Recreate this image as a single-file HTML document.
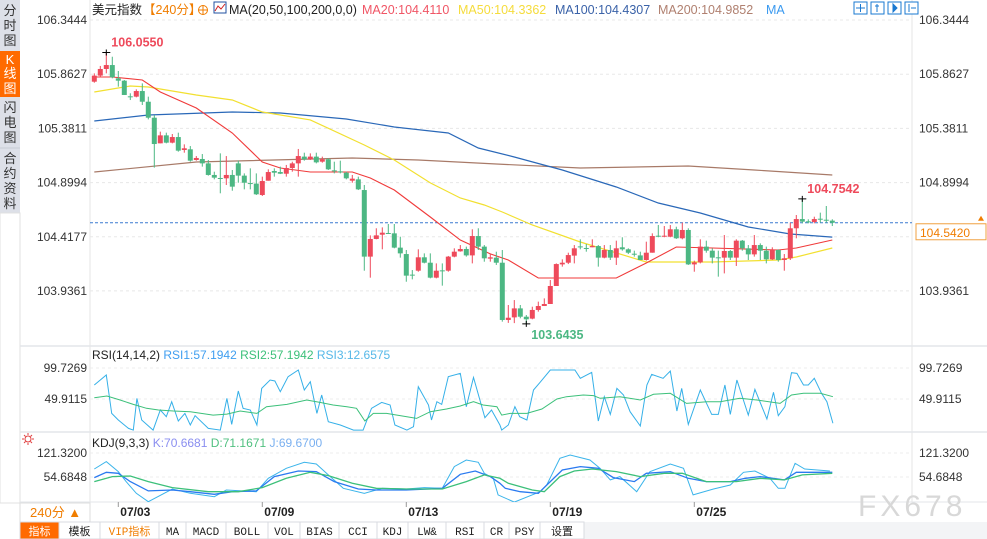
<!DOCTYPE html>
<html><head><meta charset="utf-8">
<style>
body{margin:0;width:987px;height:539px;overflow:hidden;background:#fff;font-family:"Liberation Sans","Noto Sans CJK SC",sans-serif;}
svg{position:absolute;left:0;top:0}
text{font-family:"Liberation Sans","Noto Sans CJK SC",sans-serif}
#tabs text{font-family:"Liberation Mono","Noto Sans CJK SC",monospace}
</style></head>
<body>
<svg id="c" width="987" height="539" viewBox="0 0 987 539">
  <rect x="0" y="0" width="20" height="213" fill="#dde0e8"/>
  <g font-size="13" fill="#333" text-anchor="middle">
    <g><text x="10" y="15">分</text><text x="10" y="30">时</text><text x="10" y="45">图</text></g>
    <rect x="0" y="51" width="20" height="46" fill="#ff6a00"/>
    <text x="10" y="64" fill="#fff">K</text><text x="10" y="78" fill="#fff">线</text><text x="10" y="93" fill="#fff">图</text>
    <line x1="0" y1="148" x2="20" y2="148" stroke="#c8cbd3"/>
    <g><text x="10" y="112">闪</text><text x="10" y="127">电</text><text x="10" y="142">图</text></g>
    <g><text x="10" y="163">合</text><text x="10" y="178">约</text><text x="10" y="193">资</text><text x="10" y="208">料</text></g>
  </g>
  <rect x="0" y="213" width="20" height="290" fill="#fff" stroke="#e0e0e0"/>
  <line x1="90" y1="0" x2="90" y2="502" stroke="#e6e6e6"/>
  <line x1="912" y1="0" x2="912" y2="502" stroke="#e6e6e6"/>
  <line x1="20" y1="346" x2="987" y2="346" stroke="#e3e6ea" stroke-width="1.5"/>
  <line x1="20" y1="432" x2="987" y2="432" stroke="#e3e6ea" stroke-width="1.5"/>
  <line x1="20" y1="502" x2="987" y2="502" stroke="#e3e6ea"/>
  <g id="grid"></g>
  <g id="ma"></g>
  <g id="candles"></g>
  <g id="rsi"></g>
  <g id="kdj"></g>
  <g id="axes" font-size="12" fill="#333"></g>
  <g font-size="12.5">
    <text x="92" y="14" fill="#222">美元指数</text>
    <text x="143" y="14" fill="#f07d00">【240分】</text>
    <g><circle cx="203" cy="10" r="4.5" fill="none" stroke="#f07d00"/><line x1="198" y1="10" x2="208" y2="10" stroke="#f07d00"/><line x1="203" y1="5" x2="203" y2="15" stroke="#f07d00"/></g>
    <g><rect x="214" y="2" width="12" height="11" fill="#fff" stroke="#2050a0"/><polyline points="215,11 218,6 221,9 225,4" fill="none" stroke="#d02020"/></g>
    <text x="229" y="14" fill="#222">MA(20,50,100,200,0,0)</text>
    <text x="362" y="14" fill="#f05565">MA20:104.4110</text>
    <text x="458" y="14" fill="#f5dc3c">MA50:104.3362</text>
    <text x="555" y="14" fill="#3a62a8">MA100:104.4307</text>
    <text x="658" y="14" fill="#b08070">MA200:104.9852</text>
    <text x="766" y="14" fill="#3a9af0">MA</text>
  </g>
  <g stroke="#1a78d0" fill="#fff">
    <rect x="854" y="2" width="13" height="12"/>
    <rect x="871" y="2" width="13" height="12"/>
    <rect x="888" y="2" width="13" height="12"/>
    <rect x="905" y="2" width="13" height="12"/>
    <path d="M860.5 4v8M856 8h9M877 4v8M875 6h4M893 4v8l4-4z M909 4v8M911 8h5" fill="#1a78d0"/>
  </g>
  <text x="92" y="359" font-size="12" fill="#222">RSI(14,14,2) <tspan fill="#3f9ef0">RSI1:57.1942</tspan> <tspan fill="#3cc07a">RSI2:57.1942</tspan> <tspan fill="#55b8e8">RSI3:12.6575</tspan></text>
  <g><circle cx="28" cy="439" r="3" fill="none" stroke="#e04040"/><path d="M28 433v2M28 443v2M22 439h2M32 439h2M24 435l1.5 1.5M30.5 441.5l1.5 1.5M24 443l1.5-1.5M30.5 436.5l1.5-1.5" stroke="#e04040"/></g>
  <text x="92" y="447" font-size="12" fill="#222">KDJ(9,3,3) <tspan fill="#8a8ef0">K:70.6681</tspan> <tspan fill="#50c080">D:71.1671</tspan> <tspan fill="#7ab0f0">J:69.6700</tspan></text>
  <rect x="20" y="503" width="70" height="19" fill="#fff" stroke="#ddd"/>
  <text x="30" y="517" font-size="13" fill="#f07d00">240分 ▲</text>
  <g id="dates" font-size="12" font-weight="bold" fill="#222"></g>
  <rect x="20" y="522" width="967" height="17" fill="#f3f4f6"/>
  <g id="tabs" font-size="11"></g>
  <text x="858" y="516" font-size="30" fill="#d8d8d8" letter-spacing="4">FX678</text>
</svg>
<script>
const opens=[105.796,105.850,105.909,105.944,105.826,105.805,105.666,105.663,105.713,105.618,105.476,105.248,105.319,105.254,105.304,105.189,105.195,105.100,105.109,105.070,104.967,104.940,104.937,104.967,105.070,104.961,104.895,104.890,104.789,104.916,105.002,104.993,104.978,105.029,105.070,105.130,105.106,105.130,105.085,105.106,105.008,104.999,104.987,104.916,104.928,104.833,104.241,104.398,104.436,104.451,104.448,104.321,104.264,104.081,104.116,104.235,104.187,104.054,104.119,104.116,104.241,104.288,104.309,104.252,104.424,104.330,104.223,104.232,104.187,103.678,103.701,103.781,103.707,103.690,103.767,103.802,103.820,103.980,104.172,104.187,104.250,104.332,104.318,104.324,104.335,104.232,104.300,104.232,104.324,104.306,104.267,104.252,104.211,104.276,104.427,104.418,104.418,104.484,104.404,104.478,104.172,104.190,104.330,104.294,104.235,104.232,104.291,104.232,104.383,104.315,104.261,104.344,104.294,104.217,104.300,104.211,104.226,104.493,104.575,104.555,104.549,104.578,104.569,104.561];
const closes=[105.850,105.909,105.944,105.835,105.805,105.678,105.660,105.713,105.618,105.476,105.242,105.319,105.254,105.304,105.183,105.204,105.094,105.118,105.070,104.967,104.943,104.934,104.967,104.863,104.961,104.898,104.890,104.795,104.913,104.993,104.987,104.978,105.029,105.070,105.135,105.106,105.130,105.079,105.106,105.017,105.002,104.993,104.937,104.934,104.839,104.241,104.398,104.430,104.454,104.445,104.321,104.270,104.072,104.075,104.235,104.187,104.054,104.116,104.113,104.241,104.285,104.309,104.252,104.424,104.330,104.226,104.235,104.187,103.678,103.698,103.781,103.707,103.684,103.767,103.802,103.820,103.980,104.175,104.187,104.255,104.315,104.327,104.312,104.335,104.232,104.300,104.232,104.315,104.306,104.276,104.261,104.211,104.276,104.424,104.418,104.427,104.484,104.404,104.478,104.172,104.190,104.330,104.294,104.232,104.229,104.291,104.232,104.383,104.315,104.261,104.344,104.294,104.217,104.300,104.211,104.226,104.493,104.575,104.552,104.549,104.575,104.572,104.563,104.542];
const highs=[105.870,105.936,106.055,106.018,105.891,105.811,105.693,105.728,105.781,105.663,105.500,105.352,105.343,105.331,105.343,105.239,105.224,105.135,105.153,105.100,104.996,105.159,105.135,105.011,105.094,104.981,105.026,104.981,104.952,105.017,105.026,105.041,105.056,105.085,105.198,105.165,105.159,105.165,105.130,105.115,105.085,105.094,104.996,104.967,104.952,104.878,104.430,104.493,104.501,104.531,104.531,104.418,104.300,104.122,104.306,104.270,104.270,104.181,104.181,104.247,104.315,104.344,104.330,104.484,104.493,104.344,104.264,104.285,104.300,103.811,103.855,103.811,103.722,103.796,103.841,103.870,104.033,104.181,104.217,104.276,104.344,104.395,104.353,104.395,104.344,104.344,104.344,104.383,104.413,104.315,104.294,104.285,104.374,104.448,104.522,104.513,104.522,104.507,104.543,104.493,104.205,104.395,104.383,104.315,104.294,104.433,104.300,104.395,104.389,104.344,104.433,104.359,104.330,104.324,104.306,104.264,104.543,104.611,104.7542,104.573,104.596,104.632,104.691,104.573];
const lows=[105.787,105.841,105.870,105.826,105.752,105.678,105.633,105.657,105.589,105.461,105.032,105.248,105.248,105.248,105.174,105.165,105.085,105.094,105.041,104.961,104.928,104.804,104.878,104.827,104.898,104.839,104.839,104.789,104.780,104.916,104.952,104.975,104.952,104.996,104.952,105.094,105.100,105.070,105.076,105.011,104.981,104.981,104.928,104.898,104.833,104.116,104.054,104.395,104.306,104.442,104.315,104.232,104.018,104.039,104.107,104.181,104.048,104.048,103.983,104.107,104.235,104.285,104.241,104.181,104.300,104.196,104.196,104.167,103.663,103.652,103.650,103.693,103.6435,103.684,103.752,103.802,103.820,103.980,104.152,104.175,104.181,104.306,104.285,104.324,104.152,104.226,104.211,104.167,104.294,104.264,104.241,104.211,104.205,104.276,104.413,104.413,104.413,104.398,104.395,104.167,104.107,104.181,104.276,104.181,104.063,104.092,104.211,104.158,104.294,104.211,104.241,104.211,104.181,104.211,104.196,104.116,104.211,104.404,104.537,104.537,104.537,104.543,104.543,104.513];
const ma20=[[1,105.838],[4,105.838],[9,105.811],[12,105.704],[18,105.562],[24,105.340],[29,105.082],[32,105.029],[37,104.993],[44,104.993],[47,104.940],[51,104.833],[57,104.593],[62,104.389],[67,104.265],[70,104.211],[75,104.051],[79,104.051],[88,104.051],[93,104.184],[98,104.327],[104,104.318],[115,104.300],[118,104.318],[124,104.389]];
const ma50=[[1,105.704],[7,105.758],[10,105.749],[18,105.678],[24,105.633],[29,105.527],[37,105.456],[46,105.233],[51,105.100],[57,104.896],[62,104.762],[66,104.700],[69,104.638],[74,104.522],[82,104.371],[93,104.193],[104,104.193],[115,104.211],[118,104.238],[124,104.318]];
const ma100=[[1,105.447],[10,105.500],[24,105.527],[32,105.518],[43,105.464],[51,105.393],[60,105.340],[65,105.207],[71,105.127],[79,105.011],[88,104.860],[95,104.718],[102,104.629],[110,104.504],[117,104.442],[124,104.415]];
const ma200=[[1,104.993],[18,105.082],[44,105.118],[55,105.100],[68,105.064],[82,105.029],[100,105.047],[111,105.011],[124,104.967]];
const priceTicks=[106.3444,105.8627,105.3811,104.8994,104.4177,103.9361];
const rsi3=[[1,72.4],[3,88.5],[3.9,26.8],[5,16.1],[6.7,2.7],[7.5,0],[8.1,50.9],[8.9,16.1],[10.8,0],[12,32.2],[13,21.5],[13.9,45.6],[15,14.5],[16.1,26.8],[17,8.1],[17.8,23.1],[20,2.7],[22,0],[23.1,50.9],[23.9,9.1],[25,62.7],[25.8,34.9],[27,32.2],[28.1,8.1],[28.9,67],[30.3,80.4],[31.1,78.8],[32,61.7],[33.3,85.8],[35,96.5],[36,64.3],[37,77.7],[38.1,26.8],[38.9,56.3],[40,13.4],[42,8.1],[44.2,0],[45.8,0],[47.2,34.9],[48.9,44.5],[50.3,40.2],[51.1,8.1],[53.1,0],[54.2,5.4],[55,69.7],[56.7,40.2],[57.2,16.1],[58.1,45.6],[58.9,41.3],[60,85.8],[62,91.1],[63,37.5],[64.2,84.7],[66.1,19.9],[67.2,32.2],[68.6,8.1],[68.9,0],[70,8.1],[71.1,37.5],[71.9,21.5],[73.1,16.1],[74.2,64.3],[75.3,76.7],[77,96.5],[81.1,96.5],[82,83.1],[83.9,92.7],[85,14.5],[86,53.6],[87,25.2],[88.1,67],[89.2,56.3],[90.3,29.5],[92,6.5],[93.1,72.4],[93.9,89.5],[95.8,83.1],[97,94.9],[98.1,30.6],[98.9,67],[100,9.1],[102,64.3],[103.9,25.2],[105,25.2],[106.1,72.4],[107,25.2],[108.1,80.4],[110,24.1],[111.1,65.4],[113.1,17.7],[114.2,60.6],[115,23.1],[116.1,37.5],[117.2,92.2],[118.1,91.1],[119.2,72.4],[120,72.4],[121,83.1],[122.2,59],[123.1,45.6],[124.1,10.8]];
const rsi1=[[1,52],[3.1,54.7],[5.3,48.3],[7.5,41.3],[9.7,34.9],[11.7,32.2],[14.2,30.6],[17,29.5],[20.8,24.1],[23.1,25.7],[25.3,30.6],[28.1,26.8],[29.7,37.5],[33.1,41.3],[36.4,48.3],[38.6,44.5],[40.8,40.2],[43.1,37.5],[44.7,34.9],[46.1,14.5],[47.5,26.8],[49.7,26.8],[53.1,21.5],[54.7,18.8],[57,29.5],[59.7,33.8],[62,38.6],[64.2,45.6],[65.8,40.2],[68.1,37.5],[68.9,24.1],[70.3,26.8],[73.1,26.8],[75.6,33.8],[78.1,49.9],[79.7,53.6],[82.5,56.3],[84.2,55.3],[85.3,51],[88.6,53.6],[92,48.3],[94.2,57.4],[97,59],[99.7,42.9],[103.1,45.6],[105.3,45.6],[108.6,51],[111.4,48.3],[115.3,42.9],[117.2,56.3],[119.2,59],[122,59],[124.1,53.6]];
const rsiTicks=[99.7269,49.9115];
const kdjJ=[[1,77],[3,97.4],[5,69.6],[6.3,41.8],[8,9.5],[10,-14],[14,21.5],[17,9.5],[21,0],[23,18.7],[28,14],[30,51],[33,78.9],[36,95.5],[38,90.9],[40,60.4],[42.5,23.4],[46,9.5],[49,23.4],[53,21.5],[56,25.2],[59,23.4],[61,83.5],[63,102],[65,95.5],[66,65],[67.5,51],[68.3,5],[71,-15],[75.3,14],[76.4,32.6],[78.6,106.6],[80.3,115.9],[83.6,102],[85.3,78.9],[87,46.5],[88.6,55.7],[91.4,14],[93.6,69.6],[97,90.9],[99.2,78.9],[100.8,5],[104.2,21.5],[107,32.6],[109.2,67.7],[111.1,71.4],[113.6,51],[115,23.4],[116.1,23.4],[117.8,92.7],[119.4,77],[123.6,71.4]];
const kdjK=[[1,53],[3,67.7],[5,65],[7,41.8],[10,16],[14,18.7],[17,14],[21,6.7],[24,14],[28,16],[31,55.7],[35,71.4],[38,69.6],[41,41.8],[45,21.5],[48,18.7],[53,18.7],[59,23.4],[62,62.2],[64.5,71.4],[67,55.7],[68.6,37.2],[69.5,23.4],[72,14],[75,9.5],[77,41.8],[79,74.2],[82,83.5],[85,78.9],[87.5,53],[91,41.8],[93,65],[97,69.6],[100,51],[103,41.8],[107,41.8],[109.5,51],[112,55.7],[116,46.5],[118,67.7],[124,67.7]];
const kdjD=[[1,41.8],[4,55.7],[7,57.6],[10,41.8],[14,25.2],[20,14],[25,14],[29,25.2],[33,51],[37,67.7],[40,58.5],[44,37.2],[48,23.4],[53,21.5],[59,21.5],[63,41.8],[66,60.4],[68.6,51],[70,37.2],[74,18.7],[76,14],[78.6,55.7],[81,71.4],[84,77],[88,69.6],[92,55.7],[96,65],[99,65],[103,41.8],[108,41.8],[112,51],[116,46.5],[119,60.4],[124,65]];
const kdjTicks=[121.32,54.6848];
const dateLabels=["07/03","07/09","07/13","07/19","07/25"];
const dateIdx=[5,29,53,77,101];
const tabNames=["指标","模板","VIP指标","MA","MACD","BOLL","VOL","BIAS","CCI","KDJ","LW&","RSI","CR","PSY","设置"];

const NS="http://www.w3.org/2000/svg";
function mk(tag,attrs,parent){const e=document.createElementNS(NS,tag);for(const k in attrs)e.setAttribute(k,attrs[k]);parent.appendChild(e);return e;}
const xOf=i=>94.3+6*(i-1);
const yP=v=>20+(106.3444-v)*112.5;
const yR=v=>368+(99.7269-v)*(31/49.8154);
const yK=v=>453+(121.32-v)*(24/66.6352);
const grid=document.getElementById('grid'),axes=document.getElementById('axes');
const last=closes[closes.length-1];

priceTicks.forEach(t=>{
  const g=mk('line',{x1:90,x2:912,y1:yP(t),y2:yP(t),stroke:'#e8e8e8','stroke-dasharray':'3,3'},grid);
  
  
  const a=mk('text',{x:87,y:yP(t)+4,'text-anchor':'end'},axes);a.textContent=t.toFixed(4);
  
  
  if(Math.abs(yP(t)-yP(last))>18){
    const b=mk('text',{x:919,y:yP(t)+4},axes);b.textContent=t.toFixed(4);
    
    
  }
});
[[rsiTicks,yR],[kdjTicks,yK]].forEach(([ts,f])=>ts.forEach(t=>{
  mk('line',{x1:90,x2:912,y1:f(t),y2:f(t),stroke:'#ececec','stroke-dasharray':'3,3'},grid);
  const a=mk('text',{x:87,y:f(t)+4,'text-anchor':'end'},axes);a.textContent=t.toFixed(4);
  
  
  const b=mk('text',{x:919,y:f(t)+4},axes);b.textContent=t.toFixed(4);
  
  
}));

const dl=mk('line',{x1:90,x2:912,y1:yP(last),y2:yP(last),stroke:'#3a7ad0','stroke-dasharray':'3,2'},grid);


const lb=mk('rect',{x:916,y:yP(last)+1,width:70,height:16,fill:'#fff',stroke:'#f0a040'},axes);


const lt=mk('text',{x:920,y:yP(last)+14,fill:'#f07d00'},axes);lt.textContent=last.toFixed(4);
mk('path',{d:`M978 ${yP(last)-2}l3-5l3 5z`,fill:'#f07d00'},axes);

function line(pts,xf,yf,color,parent,name,w){
  const d=pts.map((p,k)=>(k?'L':'M')+xf(p[0]).toFixed(1)+' '+yf(p[1]).toFixed(1)).join('');
  const e=mk('path',{d:d,fill:'none',stroke:color,'stroke-width':w||1},parent);
  
  
}
const maG=document.getElementById('ma');
line(ma200,xOf,yP,'#a87a68',maG,'ma200-line',1.2);
line(ma100,xOf,yP,'#2a68b8',maG,'ma100-line',1.2);
line(ma50,xOf,yP,'#f2e030',maG,'ma50-line',1.2);
line(ma20,xOf,yP,'#f03a3a',maG,'ma20-line',1.1);

const cg=document.getElementById('candles');
closes.forEach((c,k)=>{
  const o=opens[k],up=c>=o,col=up?'#ee4a5b':'#4cb783',x=xOf(k+1);
  const g=mk('g',{},cg);
  
  
  mk('line',{x1:x,x2:x,y1:yP(highs[k]),y2:yP(lows[k]),stroke:col},g);
  const top=yP(Math.max(o,c)),h=Math.max(1,Math.abs(yP(o)-yP(c)));
  mk('rect',{x:x-2.5,y:top,width:5,height:h,fill:col},g);
});
function ann(i,v,txt,col,dx,dy){
  const x=xOf(i),y=yP(v);
  mk('path',{d:`M${x-4} ${y}h8M${x} ${y-3}v6`,stroke:'#000'},cg);
  const t=mk('text',{x:x+dx,y:y+dy,fill:col,'font-size':'12.5','font-weight':'bold'},cg);t.textContent=txt;
  
  
}
const hiMax=Math.max(...highs),loMin=Math.min(...lows);
ann(highs.indexOf(hiMax)+1,hiMax,hiMax.toFixed(4),'#ee4a5b',5,-6);
ann(lows.indexOf(loMin)+1,loMin,loMin.toFixed(4),'#4cb783',5,15);
const recent=highs.slice(100),rHi=Math.max(...recent);
ann(100+recent.indexOf(rHi)+1,rHi,rHi.toFixed(4),'#ee4a5b',5,-6);

const rg=document.getElementById('rsi');
line(rsi3,xOf,yR,'#35b0e8',rg,'rsi3-line');
line(rsi1,xOf,yR,'#3cc07a',rg,'rsi1-line');
const kg=document.getElementById('kdj');
const clip=mk('clipPath',{id:'kc'},document.getElementById('c'));mk('rect',{x:90,y:433,width:822,height:69},clip);
kg.setAttribute('clip-path','url(#kc)');
line(kdjJ,xOf,yK,'#3ab4ea',kg,'kdj-j-line');
line(kdjK,xOf,yK,'#2a7af0',kg,'kdj-k-line',1.3);
line(kdjD,xOf,yK,'#3cc07a',kg,'kdj-d-line',1.3);

const dg=document.getElementById('dates');
dateLabels.forEach((d,k)=>{
  const x=xOf(dateIdx[k]);
  mk('line',{x1:x,x2:x,y1:502,y2:507,stroke:'#999'},dg);
  const t=mk('text',{x:x+2,y:516},dg);t.textContent=d;
  
  
});
const tb=document.getElementById('tabs');
const tabEdges=[20,59,100,159,186,226,268,300,339,377,408,446,484,509,540,584];
tabNames.forEach((n,k)=>{
  const x0=tabEdges[k],x1=tabEdges[k+1];
  const r=mk('rect',{x:x0,y:522,width:x1-x0,height:17,fill:k===0?'#ff6a00':'#fff',stroke:'#d8dbe0'},tb);
  
  
  const t=mk('text',{x:(x0+x1)/2,y:535,'text-anchor':'middle',fill:k===0?'#fff':(k===2?'#f07d00':'#222')},tb);t.textContent=n;
});
</script>
</body></html>
